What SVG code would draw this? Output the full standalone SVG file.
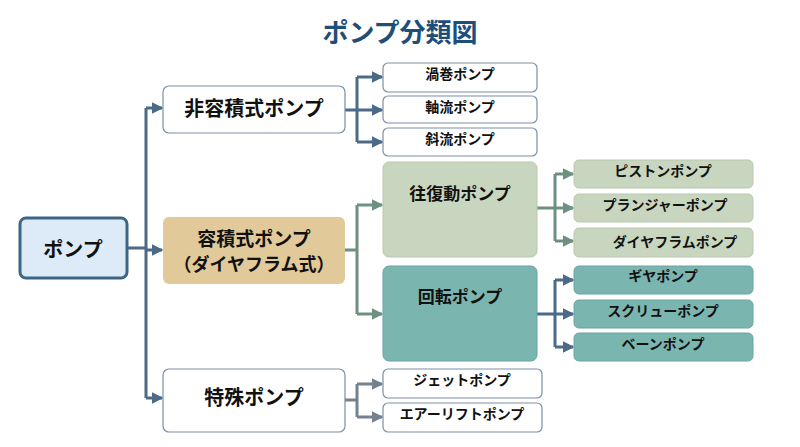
<svg xmlns="http://www.w3.org/2000/svg" width="800" height="447" viewBox="0 0 800 447">
<style>
text{font-family:"Noto Sans CJK JP","Noto Sans",sans-serif;font-weight:bold;fill:#111;text-anchor:middle;dominant-baseline:central}
.w{fill:#fff;stroke:#7a90a8;stroke-width:1.2}
.g{fill:#c9d6bf;stroke:#b8c8ae;stroke-width:1}
.t{fill:#7bb5b0;stroke:#6aa6a1;stroke-width:1}
.b{stroke:#4a6a88;stroke-width:3;fill:none}
.gr{stroke:#6e9080;stroke-width:3;fill:none}
.gy{stroke:#75818f;stroke-width:3;fill:none}
.s{font-size:14px}
</style>
<defs>
<marker id="ab" markerWidth="4" markerHeight="4" refX="3.5" refY="2" orient="auto"><path d="M0,0L4,2L0,4z" fill="#4a6a88"/></marker>
<marker id="ag" markerWidth="4" markerHeight="4" refX="3.5" refY="2" orient="auto"><path d="M0,0L4,2L0,4z" fill="#6e9080"/></marker>
<marker id="ay" markerWidth="4" markerHeight="4" refX="3.5" refY="2" orient="auto"><path d="M0,0L4,2L0,4z" fill="#75818f"/></marker>
</defs>
<rect width="800" height="447" fill="#fff"/>
<text x="400" y="30" style="font-size:26px;fill:#1f4e79">ポンプ分類図</text>
<g id="connectors">
<path class="b" d="M127,248H146M146,108V398"/>
<path class="b" d="M146,108H162" marker-end="url(#ab)"/>
<path class="b" d="M146,250H162" marker-end="url(#ab)"/>
<path class="b" d="M146,398H162" marker-end="url(#ab)"/>
<path class="b" d="M345,110H357M357,77V142"/>
<path class="b" d="M357,77H382" marker-end="url(#ab)"/>
<path class="b" d="M357,110H382" marker-end="url(#ab)"/>
<path class="b" d="M357,142H382" marker-end="url(#ab)"/>
<path class="gr" d="M345,250H357M357,205V314"/>
<path class="gr" d="M357,205H382" marker-end="url(#ag)"/>
<path class="gr" d="M357,314H382" marker-end="url(#ag)"/>
<path class="gr" d="M537,208H555M555,174V241"/>
<path class="gr" d="M555,174H573" marker-end="url(#ag)"/>
<path class="gr" d="M555,208H573" marker-end="url(#ag)"/>
<path class="gr" d="M555,241H573" marker-end="url(#ag)"/>
<path class="b" d="M537,314H555M555,280V347"/>
<path class="b" d="M555,280H573" marker-end="url(#ab)"/>
<path class="b" d="M555,314H573" marker-end="url(#ab)"/>
<path class="b" d="M555,347H573" marker-end="url(#ab)"/>
<path class="gy" d="M345,400H357M357,384V417"/>
<path class="gy" d="M357,384H382" marker-end="url(#ay)"/>
<path class="gy" d="M357,417H382" marker-end="url(#ay)"/>
</g>
<g id="root"><rect x="20" y="218" width="107" height="60" rx="6" fill="#dcebf7" stroke="#3d6585" stroke-width="3"/><text x="73" y="248" style="font-size:20px">ポンプ</text></g>
<g id="n1"><rect class="w" x="163" y="86" width="182" height="47" rx="6"/><text x="254" y="107" style="font-size:20px">非容積式ポンプ</text></g>
<g id="n2"><rect x="163" y="217" width="182" height="67" rx="6" fill="#e2c99a"/><text x="254" y="237" style="font-size:19px">容積式ポンプ</text><text x="254" y="263" style="font-size:18px">（ダイヤフラム式）</text></g>
<g id="n3"><rect class="w" x="163" y="369" width="182" height="63" rx="6"/><text x="254" y="396" style="font-size:20px">特殊ポンプ</text></g>
<g id="a1"><rect class="w" x="383" y="63" width="154" height="29" rx="5"/><text class="s" x="460" y="73">渦巻ポンプ</text></g>
<g id="a2"><rect class="w" x="383" y="96" width="154" height="27" rx="5"/><text class="s" x="460" y="106">軸流ポンプ</text></g>
<g id="a3"><rect class="w" x="383" y="128" width="154" height="28" rx="5"/><text class="s" x="460" y="138">斜流ポンプ</text></g>
<g id="b1"><rect class="g" x="383" y="162" width="154" height="95" rx="6"/><text x="460" y="192" style="font-size:17px">往復動ポンプ</text></g>
<g id="b2"><rect class="t" x="383" y="266" width="154" height="95" rx="6"/><text x="460" y="295" style="font-size:17px">回転ポンプ</text></g>
<g id="c1"><rect class="g" x="574" y="160" width="179" height="28" rx="5"/><text class="s" x="663" y="170">ピストンポンプ</text></g>
<g id="c2"><rect class="g" x="574" y="194" width="179" height="28" rx="5"/><text class="s" x="665" y="204">プランジャーポンプ</text></g>
<g id="c3"><rect class="g" x="574" y="228" width="179" height="29" rx="5"/><text class="s" x="675" y="241">ダイヤフラムポンプ</text></g>
<g id="d1"><rect class="t" x="574" y="266" width="179" height="28" rx="5"/><text class="s" x="663" y="275">ギヤポンプ</text></g>
<g id="d2"><rect class="t" x="574" y="300" width="179" height="28" rx="5"/><text class="s" x="663" y="310">スクリューポンプ</text></g>
<g id="d3"><rect class="t" x="574" y="333" width="179" height="28" rx="5"/><text class="s" x="663" y="343">ベーンポンプ</text></g>
<g id="e1"><rect class="w" x="383" y="369" width="159" height="29" rx="5"/><text class="s" x="462" y="379">ジェットポンプ</text></g>
<g id="e2"><rect class="w" x="383" y="403" width="159" height="29" rx="5"/><text class="s" x="462" y="413">エアーリフトポンプ</text></g>
</svg>
